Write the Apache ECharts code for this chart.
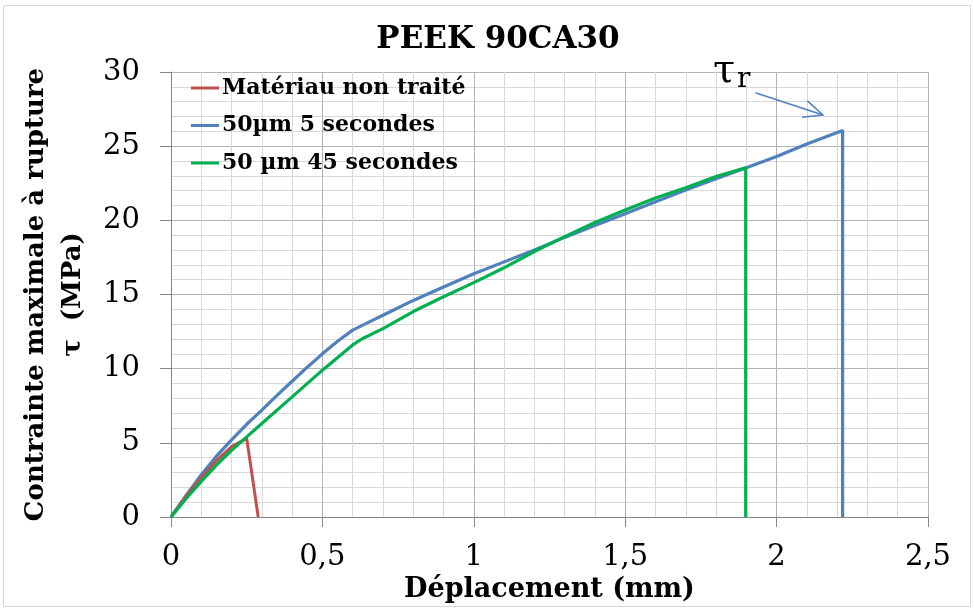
<!DOCTYPE html>
<html>
<head>
<meta charset="utf-8">
<script src="https://cdn.jsdelivr.net/npm/echarts@6/dist/echarts.min.js"></script>
<style>html,body{margin:0;padding:0;background:#fff}#c{width:974px;height:610px}</style>
</head>
<body>
<div id="c"></div>
<script>
const chartTitle = 'PEEK 90CA30';
const xTitle = 'Déplacement (mm)';
const yTitle = 'Contrainte maximale à rupture\nτ  (MPa)';
const seriesNames = ['Matériau non traité', '50µm 5 secondes', '50 µm 45 secondes'];
const xTickLabels = ['0', '0,5', '1', '1,5', '2', '2,5'];

const redData = [[0,0],[0.05,1.4],[0.1,2.65],[0.15,3.8],[0.2,4.75],[0.25,5.3],[0.288,0]];
const blueData = [[0,0],[0.05,1.45],[0.1,2.85],[0.15,4.1],[0.2,5.2],[0.25,6.25],[0.3,7.2],[0.35,8.2],[0.4,9.15],[0.45,10.1],[0.5,11.0],[0.55,11.85],[0.6,12.6],[0.65,13.1],[0.7,13.6],[0.8,14.6],[0.9,15.5],[1.0,16.4],[1.1,17.2],[1.2,18.0],[1.3,18.85],[1.4,19.65],[1.5,20.45],[1.6,21.25],[1.7,22.05],[1.8,22.8],[1.9,23.55],[2.0,24.3],[2.1,25.15],[2.218,26.05],[2.218,0]];
const greenData = [[0,0],[0.05,1.25],[0.1,2.4],[0.15,3.5],[0.2,4.5],[0.25,5.4],[0.3,6.3],[0.4,8.1],[0.5,9.9],[0.6,11.6],[0.63,12.0],[0.7,12.7],[0.8,13.85],[0.9,14.85],[1.0,15.8],[1.1,16.8],[1.2,17.9],[1.3,18.9],[1.4,19.85],[1.5,20.7],[1.6,21.5],[1.7,22.2],[1.8,22.95],[1.898,23.55],[1.898,0]];

// annotation anchors (data coords)
const annotArrow = [[1.93, 28.6], [2.153, 27.1]];
const annotTauPos = [1.790, 28.66];
const annotSubPos = [1.869, 28.52];

const colors = ['#C0504D', '#4F81BD', '#00B050'];
const FONT = 'DejaVu Serif';

const chart = echarts.init(document.getElementById('c'));
const option = {
  animation: false,
  backgroundColor: '#fff',
  legend: {
    orient: 'vertical', left: 191, top: 77, itemGap: 15.5, padding: 0,
    itemWidth: 28, itemHeight: 3, icon: 'rect',
    data: seriesNames,
    textStyle: { fontFamily: FONT, fontWeight: 'bold', fontSize: 22, color: '#000', padding: [0,0,0,-2] }
  },
  grid: { left: 171, right: 46, top: 72, bottom: 93, outerBoundsMode: 'none', containLabel: false },
  xAxis: {
    type: 'value', min: 0, max: 2.5, interval: 0.5,
    name: xTitle, nameLocation: 'middle', nameGap: 58,
    nameTextStyle: { fontFamily: FONT, fontWeight: 'bold', fontSize: 27, color: '#000' },
    axisLine: { show: true, lineStyle: { color: '#868686', width: 1 } },
    axisTick: { show: true, length: 10, lineStyle: { color: '#868686' } },
    minorTick: { show: false, splitNumber: 5 },
    axisLabel: { fontFamily: FONT, fontSize: 29, color: '#000', margin: 26,
      formatter: function (v) { return xTickLabels[Math.round(v / 0.5)]; } },
    splitLine: { show: true, lineStyle: { color: '#b3b3b3', width: 1 } },
    minorSplitLine: { show: true, lineStyle: { color: '#d9d9d9', width: 1 } }
  },
  yAxis: {
    type: 'value', min: 0, max: 30, interval: 5,
    name: yTitle, nameLocation: 'middle', nameGap: 76, nameRotate: 90,
    nameTextStyle: { fontFamily: FONT, fontWeight: 'bold', fontSize: 26, color: '#000', lineHeight: 37, align: 'center' },
    axisLine: { show: true, lineStyle: { color: '#868686', width: 1 } },
    axisTick: { show: true, length: 11, lineStyle: { color: '#868686' } },
    minorTick: { show: false, splitNumber: 5 },
    axisLabel: { fontFamily: FONT, fontSize: 29, color: '#000', margin: 31 },
    splitLine: { show: true, lineStyle: { color: '#b3b3b3', width: 1 } },
    minorSplitLine: { show: true, lineStyle: { color: '#d9d9d9', width: 1 } }
  },
  series: [
    { name: seriesNames[0], type: 'line', data: redData, showSymbol: false, z: 3,
      lineStyle: { color: colors[0], width: 3 }, itemStyle: { color: colors[0] } },
    { name: seriesNames[1], type: 'line', data: blueData, showSymbol: false, z: 2,
      lineStyle: { color: colors[1], width: 3.2 }, itemStyle: { color: colors[1] } },
    { name: seriesNames[2], type: 'line', data: greenData, showSymbol: false, z: 4,
      lineStyle: { color: colors[2], width: 3.2 }, itemStyle: { color: colors[2] } }
  ]
};
chart.setOption(option);

// Annotation (τr with arrow) and title, positioned via chart coordinates
const toPx = function (p) { return chart.convertToPixel({ gridIndex: 0 }, p); };
const p0 = toPx(annotArrow[0]);
const p1 = toPx(annotArrow[1]);
const tp = toPx(annotTauPos);
const sp = toPx(annotSubPos);
const ang = Math.atan2(p1[1] - p0[1], p1[0] - p0[0]);
const headLen = 21, headAng = 0.42;
const h1 = [p1[0] - headLen * Math.cos(ang - headAng), p1[1] - headLen * Math.sin(ang - headAng)];
const h2 = [p1[0] - headLen * Math.cos(ang + headAng), p1[1] - headLen * Math.sin(ang + headAng)];
chart.setOption({
  graphic: [
    { type: 'rect', shape: { x: 3.5, y: 5.5, width: 967, height: 601 }, style: { fill: 'none', stroke: '#d9d9d9', lineWidth: 1 }, silent: true },
    { type: 'text', x: 498, y: 24, style: { text: chartTitle, fontFamily: FONT, fontWeight: 'bold', fontSize: 31, fill: '#000', align: 'center', verticalAlign: 'top' } },
    { type: 'line', shape: { x1: p0[0], y1: p0[1], x2: p1[0], y2: p1[1] }, style: { stroke: '#4F81BD', lineWidth: 1.5 } },
    { type: 'polyline', shape: { points: [h1, p1, h2] }, style: { stroke: '#4F81BD', lineWidth: 1.5, fill: 'none' } },
    { type: 'text', x: tp[0], y: tp[1], style: { text: 'τ', fontFamily: FONT, fontSize: 40, fill: '#000', align: 'left', verticalAlign: 'bottom' } },
    { type: 'text', x: sp[0], y: sp[1], style: { text: 'r', fontFamily: FONT, fontSize: 28, fill: '#000', align: 'left', verticalAlign: 'bottom' } }
  ]
});
</script>
</body>
</html>
